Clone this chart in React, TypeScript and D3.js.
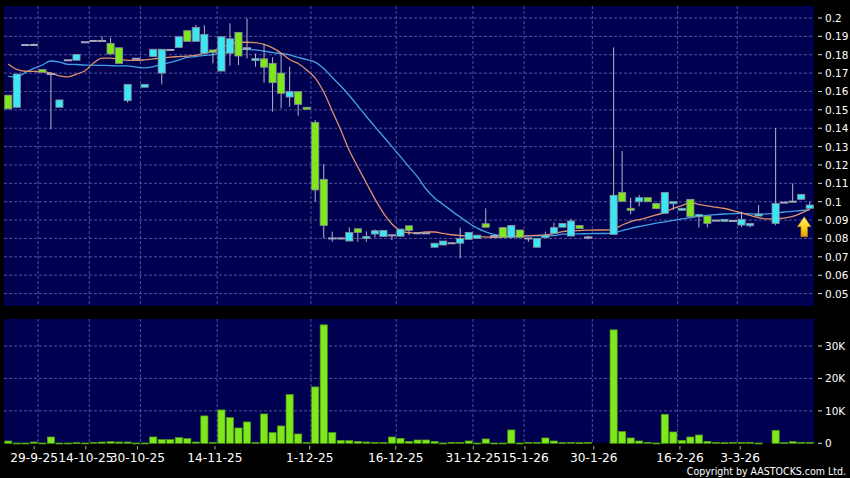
import React from 'react';
import * as d3 from 'd3';

// ---- data ----
const OPEN: (number | null)[] = [
  0.158, 0.1514, 0.1853, 0.1853, 0.172, 0.1695, 0.1514, 0.177, 0.177, 0.1868,
  0.1875, 0.1875, 0.1862, 0.1838, 0.155, 0.1778, 0.1623, 0.179, 0.17, 0.1826,
  0.184, 0.1931, 0.1873, 0.1808, 0.1826, 0.1711, 0.1808, 0.1922, 0.1835, 0.1768,
  0.1778, 0.1753, 0.17, 0.157, 0.1599, 0.1514, 0.1432, 0.1122, 0.08, 0.08,
  0.0786, 0.0853, 0.08, 0.0824, 0.081, 0.0817, 0.0812, 0.0869, 0.0828, 0.0828,
  0.0752, 0.0764, 0.0774, 0.0774, 0.0795, 0.08, 0.088, 0.0813, 0.0859, 0.0806,
  0.0846, 0.08, 0.0752, 0.0804, 0.0828, 0.0861, 0.0813, 0.0871, 0.0805, null,
  null, 0.0822, 0.1051, 0.0964, 0.1, 0.1022, 0.0991, 0.0937, 0.0991, 0.0953,
  0.1013, 0.0918, 0.0922, 0.0897, 0.0895, 0.0895, 0.0873, 0.0869, 0.0922, null,
  0.0882, 0.0995, 0.1, 0.1013, 0.0964,
];
const HIGH: (number | null)[] = [
  0.158, 0.1695, 0.1853, 0.1862, 0.172, 0.1701, 0.1554, 0.177, 0.1802, 0.1868,
  0.1875, 0.19, 0.1893, 0.1838, 0.1639, 0.1778, 0.1639, 0.183, 0.183, 0.1826,
  0.1898, 0.1931, 0.1962, 0.196, 0.1826, 0.1898, 0.1971, 0.1922, 0.1998, 0.1806,
  0.186, 0.1786, 0.1808, 0.1735, 0.1599, 0.1514, 0.1445, 0.1205, 0.0837, 0.0805,
  0.086, 0.0853, 0.0838, 0.0849, 0.0844, 0.0817, 0.0851, 0.0869, 0.0828, 0.0828,
  0.0774, 0.0786, 0.0774, 0.0859, 0.0833, 0.0818, 0.0964, 0.0813, 0.0859, 0.0871,
  0.0846, 0.08, 0.08, 0.0837, 0.0886, 0.0882, 0.0906, 0.0871, 0.0815, null,
  null, 0.184, 0.1276, 0.1022, 0.1036, 0.1022, 0.0991, 0.1051, 0.1, 0.0964,
  0.1013, 0.0931, 0.0922, 0.0897, 0.0904, 0.0895, 0.0946, 0.0882, 0.0982, null,
  0.1401, 0.0995, 0.11, 0.104, 0.1,
];
const LOW: (number | null)[] = [
  0.1505, 0.1514, 0.1853, 0.1853, 0.1705, 0.1394, 0.1514, 0.177, 0.177, 0.1868,
  0.1875, 0.1875, 0.1804, 0.1753, 0.1539, 0.1778, 0.1623, 0.179, 0.1639, 0.1826,
  0.184, 0.1873, 0.1873, 0.1808, 0.1753, 0.1711, 0.174, 0.1744, 0.178, 0.1735,
  0.1648, 0.149, 0.1508, 0.1517, 0.1468, 0.1503, 0.1, 0.08, 0.0782, 0.0795,
  0.0786, 0.0782, 0.0782, 0.0805, 0.081, 0.079, 0.0812, 0.0818, 0.0828, 0.0828,
  0.0752, 0.0764, 0.0774, 0.0692, 0.0795, 0.08, 0.0861, 0.0813, 0.0806, 0.0806,
  0.0806, 0.0782, 0.0752, 0.0804, 0.0828, 0.0861, 0.0813, 0.0853, 0.0795, null,
  null, 0.0822, 0.1002, 0.0931, 0.0975, 0.1, 0.0962, 0.0937, 0.0955, 0.0953,
  0.0918, 0.0859, 0.086, 0.0897, 0.0895, 0.0895, 0.0862, 0.086, 0.0922, null,
  0.0872, 0.0995, 0.1, 0.1013, 0.0964,
];
const CLOSE: (number | null)[] = [
  0.1505, 0.1695, 0.1853, 0.1853, 0.1705, 0.1695, 0.1554, 0.177, 0.1802, 0.1868,
  0.1875, 0.1875, 0.1804, 0.1753, 0.1639, 0.1778, 0.1639, 0.183, 0.183, 0.1826,
  0.1898, 0.1873, 0.1949, 0.1911, 0.1812, 0.1898, 0.1887, 0.1793, 0.1835, 0.178,
  0.1732, 0.1648, 0.159, 0.16, 0.153, 0.1503, 0.1064, 0.0871, 0.08, 0.08,
  0.0833, 0.0833, 0.081, 0.0842, 0.0844, 0.0817, 0.0851, 0.0844, 0.0828, 0.0828,
  0.0774, 0.0786, 0.0774, 0.08, 0.0833, 0.0818, 0.0861, 0.0813, 0.0806, 0.0871,
  0.0806, 0.08, 0.08, 0.0818, 0.0859, 0.0882, 0.0895, 0.0853, 0.0805, null,
  null, 0.1035, 0.1002, 0.0953, 0.1022, 0.1, 0.0962, 0.1051, 0.1, 0.0964,
  0.0918, 0.0931, 0.0882, 0.0897, 0.0904, 0.0895, 0.0904, 0.0882, 0.0933, null,
  0.0991, 0.0995, 0.1, 0.104, 0.0982,
];
const VOLUME: number[] = [
  700, 100, 100, 400, 100, 1950, 100, 100, 200, 100,
  300, 400, 500, 400, 400, 100, 100, 1950, 1130, 1130,
  1750, 1440, 400, 8440, 300, 10290, 7920, 4730, 6580, 300,
  9050, 3290, 5350, 15020, 2880, 300, 17390, 36520, 3290, 900,
  800, 600, 400, 300, 300, 1950, 1540, 600, 1030, 1030,
  600, 100, 300, 300, 720, 100, 1340, 100, 100, 4120,
  100, 300, 300, 1650, 720, 200, 300, 200, 300, 0,
  0, 34970, 3600, 1650, 720, 300, 100, 8950, 3500, 900,
  1950, 2570, 600, 300, 200, 300, 300, 300, 100, 0,
  4010, 200, 500, 300, 300,
];
const MA_SHORT: number[] = [
  0.175, 0.172, 0.171, 0.1709, 0.1708, 0.1701, 0.1685, 0.168, 0.1695, 0.1713,
  0.1755, 0.1782, 0.1782, 0.1776, 0.1769, 0.1769, 0.1772, 0.1777, 0.1782, 0.1787,
  0.179, 0.1793, 0.1797, 0.1808, 0.1821, 0.184, 0.1858, 0.1868, 0.1868, 0.1866,
  0.1856, 0.1837, 0.1809, 0.1774, 0.1752, 0.1717, 0.1673, 0.1597, 0.1494, 0.139,
  0.1279, 0.1189, 0.1102, 0.1015, 0.0938, 0.0879, 0.0842, 0.0831, 0.083, 0.0835,
  0.0835, 0.0827, 0.082, 0.0816, 0.0813, 0.081, 0.0808, 0.0806, 0.0807, 0.0809,
  0.0813, 0.0815, 0.0817, 0.0819, 0.0827, 0.0837, 0.0841, 0.0843, 0.0845, 0.0846,
  0.0846, 0.0851, 0.0873, 0.0892, 0.0903, 0.0915, 0.0928, 0.0942, 0.0964, 0.0979,
  0.0995, 0.0985, 0.0977, 0.097, 0.0963, 0.0952, 0.0939, 0.0925, 0.0913, 0.0906,
  0.0906, 0.0911, 0.092, 0.0938, 0.096,
];
const MA_LONG: number[] = [
  0.1682, 0.1678, 0.1703, 0.1726, 0.1744, 0.1766, 0.176, 0.1748, 0.1747, 0.1744,
  0.1743, 0.1742, 0.1741, 0.1739, 0.1739, 0.1733, 0.1728, 0.1735, 0.1748, 0.1758,
  0.1771, 0.1786, 0.179, 0.1796, 0.1801, 0.1809, 0.1818, 0.1829, 0.1829, 0.1826,
  0.182, 0.1812, 0.1807, 0.1799, 0.1785, 0.1774, 0.176, 0.1725, 0.1676, 0.163,
  0.1578, 0.1521, 0.1464, 0.1409, 0.1355, 0.13, 0.1245, 0.119, 0.1135, 0.1069,
  0.102, 0.0985, 0.095, 0.0916, 0.0884, 0.0856, 0.0836, 0.0822, 0.0814, 0.0813,
  0.0813, 0.0814, 0.0814, 0.0815, 0.0816, 0.0824, 0.0824, 0.0825, 0.0826, 0.0827,
  0.0827, 0.083, 0.0843, 0.0855, 0.0865, 0.0874, 0.0883, 0.089, 0.0898, 0.0906,
  0.0913, 0.0921, 0.0926, 0.093, 0.0933, 0.0935, 0.0936, 0.0934, 0.0932, 0.0934,
  0.0938, 0.0944, 0.0947, 0.0952, 0.0955,
];
const X_TICK_LABELS = ['29-9-25', '14-10-25', '30-10-25', '14-11-25', '1-12-25', '16-12-25', '31-12-25', '15-1-26', '30-1-26', '16-2-26', '3-3-26'];
const X_TICK_INDEX = [3, 9, 15, 24, 35, 45, 54, 60, 68, 78, 85];
const PRICE_TICKS = [0.05, 0.06, 0.07, 0.08, 0.09, 0.1, 0.11, 0.12, 0.13, 0.14, 0.15, 0.16, 0.17, 0.18, 0.19, 0.2];
const PRICE_LABELS = ['0.05', '0.06', '0.07', '0.08', '0.09', '0.1', '0.11', '0.12', '0.13', '0.14', '0.15', '0.16', '0.17', '0.18', '0.19', '0.2'];
const VOL_TICKS = [0, 10000, 20000, 30000];
const VOL_LABELS = ['0', '10K', '20K', '30K'];
const ARROW_TIP = 0.0918;
const ARROW_BASE = 0.0809;

// ---- layout ----
const W = 850, H = 478;
const L = 4, R = 814, PT = 6, PB = 306, VT = 319, VB = 443;
const BG = '#000050';
const GRID = '#50509a';
const CYAN = '#3ce6f4';
const GREEN = '#7ee81c';
const WICK = '#b4b4cc';
const FONT = 'DejaVu Sans, Verdana, sans-serif';

export default function App() {
  const n = CLOSE.length;
  const idx = d3.range(n);
  const x = d3.scaleBand<number>().domain(idx).range([L, R]).padding(0);
  const bw = x.bandwidth();
  const body = bw * 0.84;
  const cx = (i: number) => (x(i) as number) + bw / 2;
  const y = d3.scaleLinear().domain([0.05, 0.2]).range([293.55, 18]);
  const yv = d3.scaleLinear().domain([0, 30000]).range([443.3, 346]);
  const tx = d3.scaleLinear().domain([-0.5, n - 0.5]).range([L, 822]);

  const line = d3.line<number>().x((_, i) => cx(i)).y((d) => y(d)).curve(d3.curveMonotoneX);

  const gridX = X_TICK_INDEX.map((i) => (x(i) as number) + bw);

  const arrowCx = cx(n - 1) - 5.5;
  const tipY = y(ARROW_TIP);
  const baseY = y(ARROW_BASE);
  const headY = tipY + (baseY - tipY) * 0.5;
  const arrowPath = `M${arrowCx},${tipY} L${arrowCx + 6.8},${headY} L${arrowCx + 3.3},${headY} L${arrowCx + 3.3},${baseY} L${arrowCx - 3.3},${baseY} L${arrowCx - 3.3},${headY} L${arrowCx - 6.8},${headY} Z`;

  return (
    <svg width={W} height={H} style={{ position: 'absolute', left: 0, top: 0, display: 'block' }}>
      <defs>
        <linearGradient id="arrowGrad" x1="0" y1="0" x2="0" y2="1">
          <stop offset="0%" stopColor="#fff27a" />
          <stop offset="55%" stopColor="#ffd21e" />
          <stop offset="100%" stopColor="#e39a00" />
        </linearGradient>
      </defs>
      <rect x={0} y={0} width={W} height={H} fill="#000" />
      <rect x={L} y={PT} width={R - L} height={PB - PT} fill={BG} />
      <rect x={L} y={VT} width={R - L} height={VB - VT} fill={BG} />

      {/* price grid */}
      {PRICE_TICKS.map((t, k) => (
        <line key={'pg' + k} x1={L} x2={R} y1={y(t)} y2={y(t)} stroke={GRID} strokeDasharray="3,2" strokeWidth={1} />
      ))}
      {gridX.map((gx, k) => (
        <line key={'pgx' + k} x1={gx} x2={gx} y1={PT} y2={PB} stroke={GRID} strokeDasharray="3,2" strokeWidth={1} />
      ))}
      {/* volume grid */}
      {VOL_TICKS.slice(1).map((t, k) => (
        <line key={'vg' + k} x1={L} x2={R} y1={yv(t)} y2={yv(t)} stroke={GRID} strokeDasharray="3,2" strokeWidth={1} />
      ))}
      {gridX.map((gx, k) => (
        <line key={'vgx' + k} x1={gx} x2={gx} y1={VT} y2={VB} stroke={GRID} strokeDasharray="3,2" strokeWidth={1} />
      ))}

      {/* moving averages */}
      <path d={line(MA_LONG) || ''} fill="none" stroke="#3fa2e6" strokeWidth={1.3} />
      <path d={line(MA_SHORT) || ''} fill="none" stroke="#e0906a" strokeWidth={1.3} />

      {/* candles */}
      {idx.map((i) => {
        const o = OPEN[i], h = HIGH[i], l = LOW[i], c = CLOSE[i];
        if (o == null || h == null || l == null || c == null) return null;
        const xc = cx(i);
        const top = y(Math.max(o, c));
        const bot = y(Math.min(o, c));
        const doji = Math.abs(o - c) < 0.0002;
        return (
          <g key={'c' + i}>
            {h > l && <line x1={xc} x2={xc} y1={y(h)} y2={y(l)} stroke={WICK} strokeWidth={1} />}
            {doji ? (
              <rect x={xc - body / 2 - 0.5} y={top - 1} width={body + 1} height={2} fill="#a6a6b8" />
            ) : (
              <rect
                x={xc - body / 2}
                y={top}
                width={body}
                height={Math.max(bot - top, 2)}
                fill={c > o ? CYAN : GREEN}
                stroke="#8c8c96"
                strokeWidth={0.8}
              />
            )}
          </g>
        );
      })}

      {/* arrow */}
      <path d={arrowPath} fill="url(#arrowGrad)" stroke="#b07a00" strokeWidth={0.6} />

      {/* volume bars */}
      {VOLUME.map((v, i) =>
        v > 0 ? (
          <rect
            key={'v' + i}
            x={cx(i) - body / 2}
            y={yv(v)}
            width={body}
            height={Math.max(yv(0) - yv(v), 1)}
            fill={GREEN}
            stroke="#4f9a12"
            strokeWidth={0.7}
          />
        ) : null
      )}

      {/* price axis labels */}
      {PRICE_TICKS.map((t, k) => (
        <g key={'pl' + k}>
          <line x1={818} x2={822} y1={y(t)} y2={y(t)} stroke="#ddd" strokeWidth={1} />
          <text x={825} y={y(t)} dominantBaseline="central" fill="#fff" fontSize={10.5} fontFamily={FONT}>
            {PRICE_LABELS[k]}
          </text>
        </g>
      ))}
      {/* volume axis labels */}
      {VOL_TICKS.map((t, k) => (
        <g key={'vl' + k}>
          <line x1={818} x2={822} y1={yv(t)} y2={yv(t)} stroke="#ddd" strokeWidth={1} />
          <text x={825} y={yv(t)} dominantBaseline="central" fill="#fff" fontSize={10.5} fontFamily={FONT}>
            {VOL_LABELS[k]}
          </text>
        </g>
      ))}

      {/* x axis */}
      {X_TICK_INDEX.map((i, k) => (
        <g key={'xt' + k}>
          <line x1={tx(i)} x2={tx(i)} y1={446} y2={449.5} stroke="#aaa" strokeWidth={1} />
          <text x={tx(i)} y={461.6} textAnchor="middle" fill="#fff" fontSize={12.2} fontFamily={FONT}>
            {X_TICK_LABELS[k]}
          </text>
        </g>
      ))}

      <g transform="translate(846,474.6) scale(0.86,1)">
        <text x={0} y={0} textAnchor="end" fill="#fff" fontSize={11} fontFamily={FONT}>
          Copyright by AASTOCKS.com Ltd.
        </text>
      </g>
    </svg>
  );
}
